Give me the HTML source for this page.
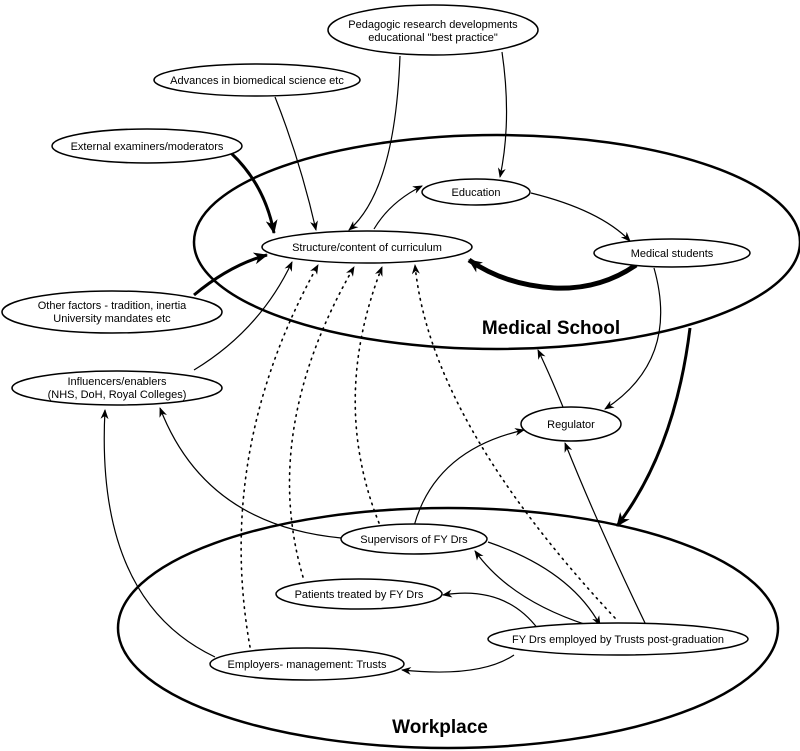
<!DOCTYPE html>
<html><head><meta charset="utf-8"><style>
html,body{margin:0;padding:0;background:#fff;}
svg{display:block;}
text{font-family:"Liberation Sans",sans-serif;font-size:11px;fill:#000;text-anchor:middle;stroke:none;}
.big{font-size:19px;font-weight:bold;}
</style></head><body>
<svg width="800" height="751" viewBox="0 0 800 751" xmlns="http://www.w3.org/2000/svg">
<defs>
<marker id="a" markerWidth="10" markerHeight="8" refX="9" refY="4" orient="auto" markerUnits="userSpaceOnUse"><path d="M0,0 L10,4 L0,8 L3,4 z" fill="#000"/></marker>
<marker id="b" markerWidth="14" markerHeight="12" refX="13" refY="6" orient="auto" markerUnits="userSpaceOnUse"><path d="M0,0 L14,6 L0,12 L4,6 z" fill="#000"/></marker>
</defs>
<g fill="none" stroke="#000">
<ellipse cx="497" cy="242" rx="303" ry="107" stroke-width="2.5"/>
<ellipse cx="448" cy="628" rx="330" ry="120" stroke-width="2.5"/>

<g stroke-width="1.2">
<path d="M275,97 Q300,160 316,230" marker-end="url(#a)"/>
<path d="M400,56 Q395,190 349,230" marker-end="url(#a)"/>
<path d="M502,52 Q512,120 500,177" marker-end="url(#a)"/>
<path d="M374,229 Q390,202 422,186" marker-end="url(#a)"/>
<path d="M531,193 Q600,210 630,241" marker-end="url(#a)"/>
<path d="M654,268 Q680,360 605,409" marker-end="url(#a)"/>
<path d="M563,407 Q550,375 538,350" marker-end="url(#a)"/>
<path d="M194,370 Q260,330 292,262" marker-end="url(#a)"/>
<path d="M414,526 Q435,450 524,430" marker-end="url(#a)"/>
<path d="M646,625 Q600,530 565,443" marker-end="url(#a)"/>
<path d="M341,538 Q205,525 160,408" marker-end="url(#a)"/>
<path d="M215,657 Q95,600 105,410" marker-end="url(#a)"/>
<path d="M488,542 Q570,570 600,625" marker-end="url(#a)"/>
<path d="M587,625 Q510,600 475,551" marker-end="url(#a)"/>
<path d="M538,629 Q505,585 443,595" marker-end="url(#a)"/>
<path d="M514,655 Q480,678 402,670" marker-end="url(#a)"/>
</g>
<g stroke-width="1.6" stroke-dasharray="1.5 5" stroke-linecap="round">
<path d="M250,647 Q215,450 318,265" marker-end="url(#a)"/>
<path d="M303,577 Q260,430 354,267" marker-end="url(#a)"/>
<path d="M379,523 Q330,400 382,267" marker-end="url(#a)"/>
<path d="M615,618 Q430,420 415,265" marker-end="url(#a)"/>
</g>
<g stroke-width="3">
<path d="M231,153 Q265,185 274,233" marker-end="url(#b)"/>
<path d="M194,295 Q230,265 267,255" marker-end="url(#b)"/>
<path d="M690,328 Q675,450 617,526" marker-end="url(#b)"/>
</g>
<path d="M636,265 Q600,290 554,288 Q505,285 469,260" stroke-width="5" marker-end="url(#b)"/>

<g stroke-width="1.5" fill="#fff">
<ellipse cx="433" cy="30" rx="105" ry="25"/>
<ellipse cx="257" cy="80" rx="103" ry="16"/>
<ellipse cx="147" cy="146" rx="95" ry="17"/>
<ellipse cx="476" cy="192" rx="54" ry="13"/>
<ellipse cx="367" cy="247" rx="105" ry="16"/>
<ellipse cx="672" cy="253" rx="78" ry="14"/>
<ellipse cx="112" cy="312" rx="110" ry="21"/>
<ellipse cx="117" cy="388" rx="105" ry="17"/>
<ellipse cx="571" cy="424" rx="50" ry="17"/>
<ellipse cx="414" cy="539" rx="73" ry="15"/>
<ellipse cx="359" cy="594" rx="83" ry="15"/>
<ellipse cx="618" cy="639" rx="130" ry="16"/>
<ellipse cx="307" cy="664" rx="97" ry="16"/>
</g>
</g>
<text x="433" y="28">Pedagogic research developments</text>
<text x="433" y="41">educational "best practice"</text>
<text x="257" y="84">Advances in biomedical science etc</text>
<text x="147" y="150">External examiners/moderators</text>
<text x="476" y="196">Education</text>
<text x="367" y="251">Structure/content of curriculum</text>
<text x="672" y="257">Medical students</text>
<text x="112" y="309">Other factors - tradition, inertia</text>
<text x="112" y="322">University mandates etc</text>
<text x="117" y="385">Influencers/enablers</text>
<text x="117" y="398">(NHS, DoH, Royal Colleges)</text>
<text x="571" y="428">Regulator</text>
<text x="414" y="543">Supervisors of FY Drs</text>
<text x="359" y="598">Patients treated by FY Drs</text>
<text x="618" y="643">FY Drs employed by Trusts post-graduation</text>
<text x="307" y="668">Employers- management: Trusts</text>
<text class="big" x="551" y="334">Medical School</text>
<text class="big" x="440" y="733">Workplace</text>
</svg>
</body></html>
